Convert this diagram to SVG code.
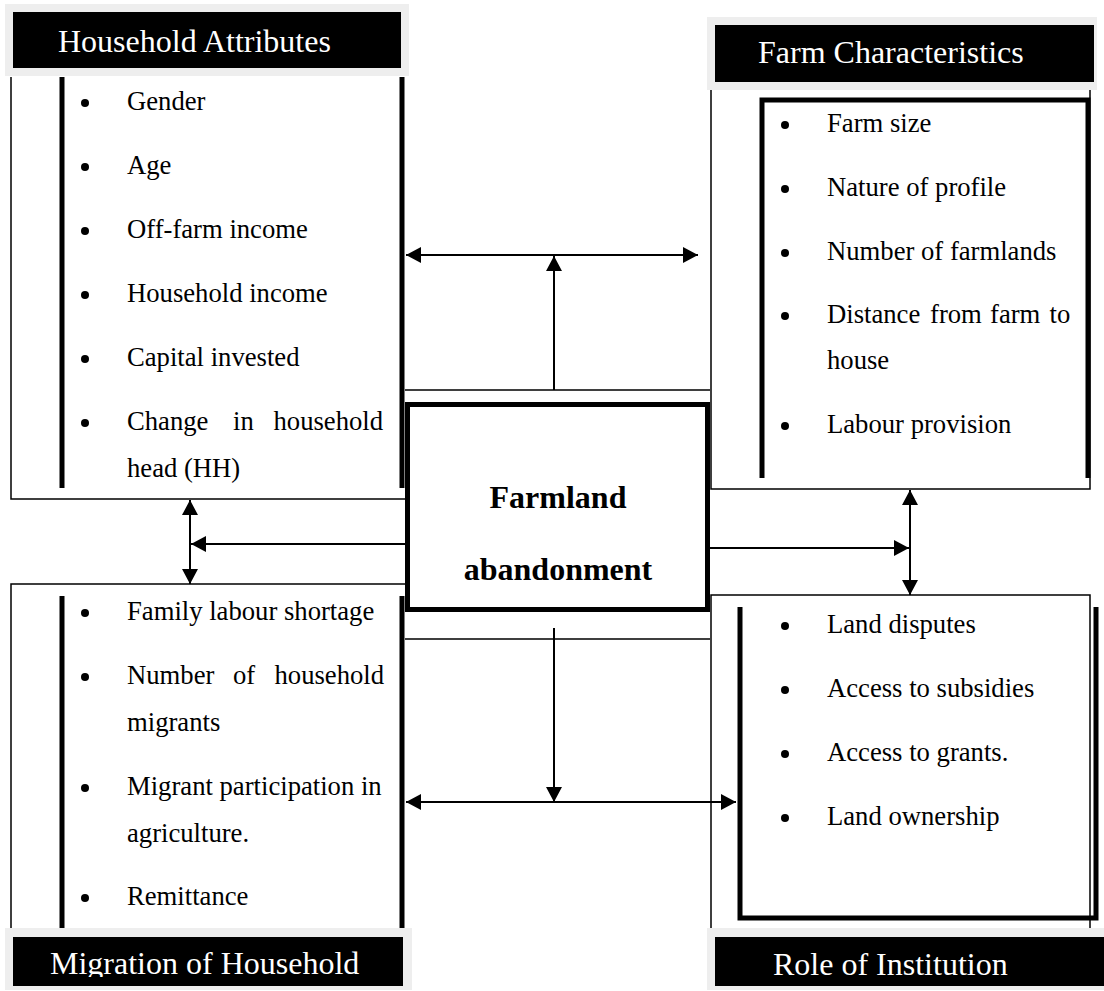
<svg xmlns="http://www.w3.org/2000/svg" width="1104" height="991" viewBox="0 0 1104 991">
<defs>
<style>
.hdrbg{fill:#eeeeee}
.hdr{fill:#000}
.ht{font-family:"Liberation Serif","Times New Roman",serif;font-size:32px;fill:#fff}
.t{font-family:"Liberation Serif","Times New Roman",serif;font-size:26.67px;fill:#000}
.ct{font-family:"Liberation Serif","Times New Roman",serif;font-size:32px;font-weight:bold;fill:#000;text-anchor:middle}
.thin{stroke:#000;stroke-width:1.5;fill:none}
.thick{stroke:#000;stroke-width:5;fill:none}
.b{fill:#000}
.c{stroke:#000;stroke-width:2;fill:none}
.a1{marker-end:url(#ah)}
.a2{marker-start:url(#ah);marker-end:url(#ah)}
</style>
<marker id="ah" markerUnits="userSpaceOnUse" markerWidth="15" markerHeight="16" refX="15" refY="8" orient="auto-start-reverse" viewBox="0 0 15 16"><path d="M0,0 L15,8 L0,16 z" fill="#000"/></marker>
<clipPath id="clipBottom"><rect x="0" y="0" width="1104" height="977"/></clipPath>
</defs>
<rect x="0" y="0" width="1104" height="991" fill="#fff"/>

<g id="node-household-attributes">
<path class="thin" d="M11,77 V499 H405"/>
<path class="thick" d="M62,77 V488 M402,77 V488"/>
<rect class="hdrbg" x="5" y="4" width="404" height="72"/>
<rect class="hdr" x="13" y="12" width="388" height="56"/>
<text class="ht" x="58" y="52">Household Attributes</text>
<circle class="b" cx="85" cy="103" r="4"/><text class="t" x="127" y="110">Gender</text>
<circle class="b" cx="85" cy="167" r="4"/><text class="t" x="127" y="174">Age</text>
<circle class="b" cx="85" cy="231" r="4"/><text class="t" x="127" y="238">Off-farm income</text>
<circle class="b" cx="85" cy="295" r="4"/><text class="t" x="127" y="302">Household income</text>
<circle class="b" cx="85" cy="359" r="4"/><text class="t" x="127" y="366">Capital invested</text>
<circle class="b" cx="85" cy="423" r="4"/><text class="t" y="430"><tspan x="127">Change</tspan><tspan x="233">in</tspan><tspan x="273.5">household</tspan></text>
<text class="t" x="127" y="477">head (HH)</text>
</g>

<g id="node-farm-characteristics">
<path class="thin" d="M711,90 V489 H1090 V90"/>
<path class="thick" d="M762,478 V100 H1088 V478"/>
<rect class="hdrbg" x="707" y="17" width="390" height="73"/>
<rect class="hdr" x="715" y="25" width="379" height="57"/>
<text class="ht" x="758" y="63">Farm Characteristics</text>
<circle class="b" cx="785" cy="125" r="4"/><text class="t" x="827" y="132">Farm size</text>
<circle class="b" cx="785" cy="189" r="4"/><text class="t" x="827" y="196">Nature of profile</text>
<circle class="b" cx="785" cy="253" r="4"/><text class="t" x="827" y="260">Number of farmlands</text>
<circle class="b" cx="785" cy="316" r="4"/><text class="t" y="323"><tspan x="827">Distance</tspan><tspan x="930">from</tspan><tspan x="990">farm</tspan><tspan x="1049.5">to</tspan></text>
<text class="t" x="827" y="369">house</text>
<circle class="b" cx="785" cy="426" r="4"/><text class="t" x="827" y="433">Labour provision</text>
</g>

<g id="node-farmland-abandonment">
<path class="thin" d="M405,390 H710 M405,639 H710"/>
<rect x="407.5" y="404.5" width="300" height="205" fill="#fff" stroke="#000" stroke-width="5"/>
<text class="ct" x="558" y="508">Farmland</text>
<text class="ct" x="558" y="580">abandonment</text>
</g>

<g id="node-migration-of-household">
<path class="thin" d="M11,928 V584 H405"/>
<path class="thick" d="M62,596 V928 M402,596 V928"/>
<circle class="b" cx="85" cy="613" r="4"/><text class="t" x="127" y="620">Family labour shortage</text>
<circle class="b" cx="85" cy="677" r="4"/><text class="t" y="684"><tspan x="127">Number</tspan><tspan x="233">of</tspan><tspan x="274.5">household</tspan></text>
<text class="t" x="127" y="731">migrants</text>
<circle class="b" cx="85" cy="788" r="4"/><text class="t" x="127" y="795">Migrant participation in</text>
<text class="t" x="127" y="842">agriculture.</text>
<circle class="b" cx="85" cy="898" r="4"/><text class="t" x="127" y="905">Remittance</text>
<rect class="hdrbg" x="5" y="928" width="407" height="62"/>
<rect class="hdr" x="13" y="937" width="390" height="49"/>
<text class="ht" x="50" y="974" clip-path="url(#clipBottom)">Migration of Household</text>
</g>

<g id="node-role-of-institution">
<path class="thin" d="M711,928 V595 H1090 V930"/>
<path class="thick" d="M740,607 V918 H1096 V607"/>
<circle class="b" cx="785" cy="626" r="4"/><text class="t" x="827" y="633">Land disputes</text>
<circle class="b" cx="785" cy="690" r="4"/><text class="t" x="827" y="697">Access to subsidies</text>
<circle class="b" cx="785" cy="754" r="4"/><text class="t" x="827" y="761">Access to grants.</text>
<circle class="b" cx="785" cy="818" r="4"/><text class="t" x="827" y="825">Land ownership</text>
<rect class="hdrbg" x="707" y="928" width="397" height="62"/>
<rect class="hdr" x="715" y="937" width="389" height="49"/>
<text class="ht" x="773" y="975" clip-path="url(#clipBottom)">Role of Institution</text>
</g>

<g id="connectors">
<path class="c a2" d="M406,255 H698"/>
<path class="c a1" d="M554,390 V256"/>
<path class="c a1" d="M405,544 H191"/>
<path class="c a2" d="M190,500 V584"/>
<path class="c a1" d="M710,548 H909"/>
<path class="c a2" d="M910,490 V595"/>
<path class="c a1" d="M554,628 V802"/>
<path class="c a2" d="M406,802 H736"/>
</g>
</svg>
